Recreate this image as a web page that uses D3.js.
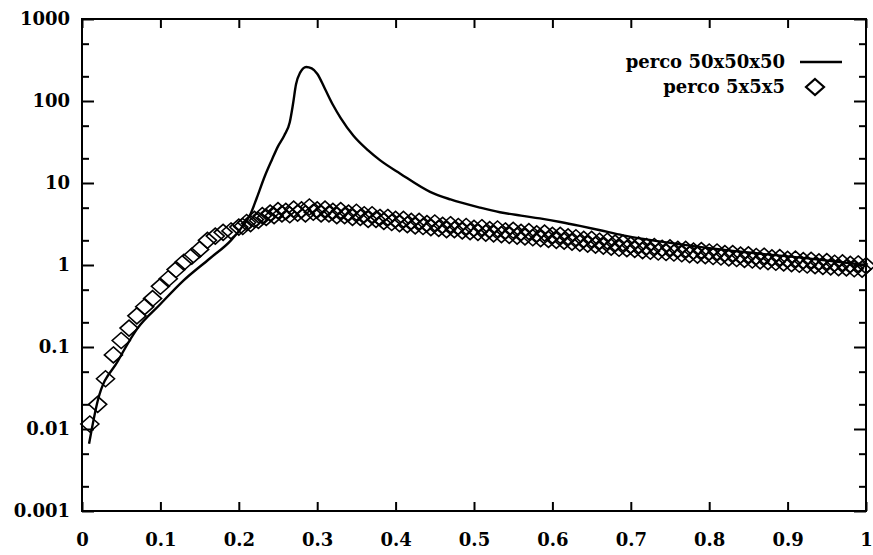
<!DOCTYPE html>
<html>
<head>
<meta charset="utf-8">
<script src="https://cdn.jsdelivr.net/npm/d3@7"></script>
<style>
  body { margin: 0; background: #fff; }
  svg text { font-family: "DejaVu Serif", serif; font-weight: bold; fill: #000; }
</style>
</head>
<body>
<div id="chart"></div>
<script>
// x ticks / y ticks
var xTicks = [0, 0.1, 0.2, 0.3, 0.4, 0.5, 0.6, 0.7, 0.8, 0.9, 1];
var xTickLabels = ["0", "0.1", "0.2", "0.3", "0.4", "0.5", "0.6", "0.7", "0.8", "0.9", "1"];
var yTicks = [0.001, 0.01, 0.1, 1, 10, 100, 1000];
var yTickLabels = ["0.001", "0.01", "0.1", "1", "10", "100", "1000"];
var yMinor = [0.002, 0.005, 0.02, 0.05, 0.2, 0.5, 2, 5, 20, 50, 200, 500];

// perco 50x50x50 (line)
var bigX = [0.009, 0.020, 0.046, 0.071, 0.0995, 0.129, 0.163, 0.19, 0.204, 0.215, 0.223, 0.233,
  0.242, 0.25, 0.258, 0.265, 0.269, 0.273, 0.278, 0.286, 0.293, 0.30, 0.31, 0.32, 0.33,
  0.346, 0.365, 0.38, 0.406, 0.444, 0.47, 0.508, 0.533, 0.56, 0.584, 0.61, 0.635, 0.661,
  0.69, 0.72, 0.78, 0.85, 0.92, 1.0];
var bigY = [0.0066, 0.022, 0.068, 0.17, 0.33, 0.64, 1.2, 2.0, 2.9, 4.2, 6.6, 12,
  19, 28, 38, 55, 90, 160, 220, 260, 250, 215, 140, 90, 62,
  38, 25, 19, 13, 7.8, 6.3, 5.0, 4.4, 4.0, 3.7, 3.35, 3.0, 2.65,
  2.3, 2.05, 1.7, 1.42, 1.22, 1.0];

// perco 5x5x5 (diamonds)
var smallX = [0.01, 0.02, 0.03, 0.04, 0.05, 0.06, 0.07, 0.08, 0.09, 0.10,
  0.11, 0.12, 0.13, 0.14, 0.15, 0.16, 0.17, 0.18, 0.19,
  0.200, 0.205,
  0.210, 0.215, 0.220, 0.225, 0.230, 0.235, 0.240, 0.245, 0.250, 0.255,
  0.260, 0.265, 0.270, 0.275, 0.280, 0.285, 0.290, 0.295, 0.300, 0.305,
  0.310, 0.315, 0.320, 0.325, 0.330, 0.335, 0.340, 0.345, 0.350, 0.355,
  0.360, 0.365, 0.370, 0.375, 0.380, 0.385, 0.390, 0.395, 0.400, 0.405,
  0.410, 0.415, 0.420, 0.425, 0.430, 0.435, 0.440, 0.445, 0.450, 0.455,
  0.460, 0.465, 0.470, 0.475, 0.480, 0.485, 0.490, 0.495, 0.500, 0.505,
  0.510, 0.515, 0.520, 0.525, 0.530, 0.535, 0.540, 0.545, 0.550, 0.555,
  0.560, 0.565, 0.570, 0.575, 0.580, 0.585, 0.590, 0.595, 0.600, 0.605,
  0.610, 0.615, 0.620, 0.625, 0.630, 0.635, 0.640, 0.645, 0.650, 0.655,
  0.660, 0.665, 0.670, 0.675, 0.680, 0.685, 0.690, 0.695, 0.700, 0.705,
  0.710, 0.715, 0.720, 0.725, 0.730, 0.735, 0.740, 0.745, 0.750, 0.755,
  0.760, 0.765, 0.770, 0.775, 0.780, 0.785, 0.790, 0.795, 0.800, 0.805,
  0.810, 0.815, 0.820, 0.825, 0.830, 0.835, 0.840, 0.845, 0.850, 0.855,
  0.860, 0.865, 0.870, 0.875, 0.880, 0.885, 0.890, 0.895, 0.900, 0.905,
  0.910, 0.915, 0.920, 0.925, 0.930, 0.935, 0.940, 0.945, 0.950, 0.955,
  0.960, 0.965, 0.970, 0.975, 0.980, 0.985, 0.990, 0.995, 1.000];
var smallY = [0.0115, 0.020, 0.041, 0.080, 0.12, 0.17, 0.24, 0.31, 0.39, 0.55,
  0.68, 0.88, 1.08, 1.28, 1.55, 2.0, 2.25, 2.5, 2.6,
  2.9, 2.95,
  3.3, 3.2, 3.6, 3.5, 4.0, 3.8, 4.3, 4.0, 4.6, 4.2,
  4.5, 4.1, 4.8, 4.3, 4.7, 4.2, 5.1, 4.4, 4.7, 4.2,
  4.8, 4.2, 4.5, 4.0, 4.6, 4.0, 4.3, 3.8, 4.4, 3.8,
  4.1, 3.6, 4.1, 3.6, 3.8, 3.4, 3.8, 3.3, 3.6, 3.2,
  3.6, 3.1, 3.4, 3.0, 3.4, 2.95, 3.2, 2.85, 3.25, 2.8,
  3.05, 2.7, 3.1, 2.7, 2.95, 2.6, 2.95, 2.55, 2.8, 2.5,
  2.85, 2.45, 2.7, 2.4, 2.75, 2.35, 2.6, 2.3, 2.65, 2.25,
  2.5, 2.2, 2.55, 2.15, 2.4, 2.1, 2.45, 2.05, 2.3, 2.0,
  2.3, 1.95, 2.2, 1.9, 2.15, 1.85, 2.05, 1.8, 2.05, 1.75,
  1.95, 1.7, 1.95, 1.65, 1.85, 1.6, 1.85, 1.58, 1.75, 1.55,
  1.75, 1.5, 1.68, 1.47, 1.68, 1.44, 1.6, 1.42, 1.62, 1.4,
  1.55, 1.37, 1.55, 1.34, 1.48, 1.32, 1.5, 1.3, 1.44, 1.27,
  1.44, 1.25, 1.38, 1.22, 1.38, 1.2, 1.32, 1.17, 1.33, 1.15,
  1.27, 1.12, 1.28, 1.1, 1.22, 1.08, 1.23, 1.06, 1.17, 1.04,
  1.18, 1.02, 1.13, 1.0, 1.14, 0.98, 1.09, 0.96, 1.1, 0.95,
  1.05, 0.93, 1.06, 0.92, 1.02, 0.9, 1.03, 0.89, 0.98];

var legendLabels = ["perco 50x50x50", "perco 5x5x5"];

var W = 873, H = 555;
var plotL = 82, plotR = 866, plotT = 19, plotB = 511;

var svg = d3.select("#chart").append("svg")
  .attr("width", W).attr("height", H);

var x = d3.scaleLinear().domain([0, 1]).range([plotL, plotR]);
var y = d3.scaleLog().domain([0.001, 1000]).range([plotB, plotT]);

// diamond path
function diamond(cx, cy) {
  var hw = 9, hh = 8;
  return "M" + cx + "," + (cy - hh) + "L" + (cx + hw) + "," + cy +
    "L" + cx + "," + (cy + hh) + "L" + (cx - hw) + "," + cy + "Z";
}

// plot marks first, frame on top
var small = smallX.map(function(d, i) { return [d, smallY[i]]; });
var big = bigX.map(function(d, i) { return [d, bigY[i]]; });

svg.append("g").selectAll("path")
  .data(small)
  .enter().append("path")
    .attr("d", function(d) { return diamond(x(d[0]), y(d[1])); })
    .attr("fill", "none")
    .attr("stroke", "#000")
    .attr("stroke-width", 1.6);

var line = d3.line()
  .x(function(d) { return x(d[0]); })
  .y(function(d) { return y(d[1]); })
  .curve(d3.curveMonotoneX);

svg.append("path")
  .datum(big)
  .attr("d", line)
  .attr("fill", "none")
  .attr("stroke", "#000")
  .attr("stroke-width", 2.4);

// axes, ticks point inward
var xBottom = d3.axisBottom(x).tickValues(xTicks)
  .tickFormat(function(d, i) { return xTickLabels[i]; })
  .tickSizeInner(-9).tickSizeOuter(0).tickPadding(22);
var xTop = d3.axisTop(x).tickValues(xTicks).tickFormat("")
  .tickSizeInner(-9).tickSizeOuter(0);
var yLeft = d3.axisLeft(y).tickValues(yTicks)
  .tickFormat(function(d, i) { return yTickLabels[i]; })
  .tickSizeInner(-12).tickSizeOuter(0).tickPadding(12);
var yLeftMinor = d3.axisLeft(y).tickValues(yMinor).tickFormat("")
  .tickSizeInner(-7).tickSizeOuter(0);
var yRight = d3.axisRight(y).tickValues(yTicks).tickFormat("")
  .tickSizeInner(-12).tickSizeOuter(0);
var yRightMinor = d3.axisRight(y).tickValues(yMinor).tickFormat("")
  .tickSizeInner(-7).tickSizeOuter(0);

function styleAxis(g) {
  g.select(".domain").remove();
  g.selectAll("line").attr("stroke", "#000").attr("stroke-width", 2);
  g.selectAll("text").attr("font-size", 18)
    .style("font-family", "'DejaVu Serif', serif").style("font-weight", "bold");
}

svg.append("g").attr("transform", "translate(0," + plotB + ")").call(xBottom).call(styleAxis);
svg.append("g").attr("transform", "translate(0," + plotT + ")").call(xTop).call(styleAxis);
svg.append("g").attr("transform", "translate(" + plotL + ",0)").call(yLeft).call(styleAxis);
svg.append("g").attr("transform", "translate(" + plotL + ",0)").call(yLeftMinor).call(styleAxis);
svg.append("g").attr("transform", "translate(" + plotR + ",0)").call(yRight).call(styleAxis);
svg.append("g").attr("transform", "translate(" + plotR + ",0)").call(yRightMinor).call(styleAxis);

svg.append("rect")
  .attr("x", plotL).attr("y", plotT)
  .attr("width", plotR - plotL).attr("height", plotB - plotT)
  .attr("fill", "none").attr("stroke", "#000").attr("stroke-width", 2);

// legend
var legend = svg.append("g");
legend.selectAll("text")
  .data(legendLabels)
  .enter().append("text")
    .attr("x", 785)
    .attr("y", function(d, i) { return 68 + i * 25; })
    .attr("text-anchor", "end")
    .attr("font-size", 18)
    .text(function(d) { return d; });

legend.append("line")
  .attr("x1", 800).attr("x2", 842)
  .attr("y1", 62).attr("y2", 62)
  .attr("stroke", "#000").attr("stroke-width", 2.4);

legend.append("path")
  .attr("d", diamond(815, 87))
  .attr("fill", "none").attr("stroke", "#000").attr("stroke-width", 2.2);
</script>
</body>
</html>
